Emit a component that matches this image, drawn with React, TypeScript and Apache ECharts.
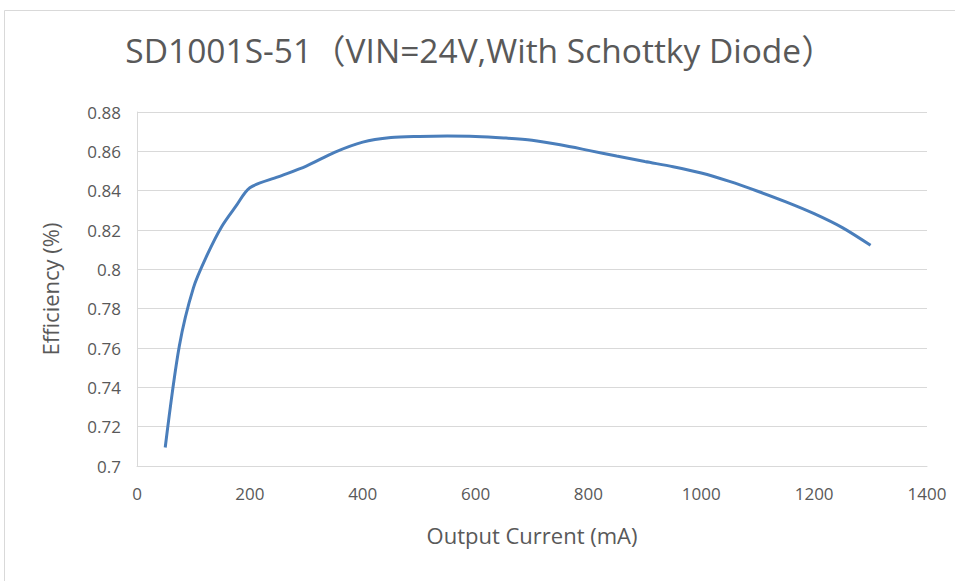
import React, { useEffect, useRef } from "react";
import * as echarts from "echarts";

const titleText = "SD1001S-51（VIN=24V,With Schottky Diode）";
const xName = "Output Current (mA)";
const yName = "Efficiency (%)";
const currents = [50, 75, 100, 125, 150, 175, 200, 250, 300, 350, 400, 450, 500, 550, 600, 650, 700, 750, 800, 850, 900, 950, 1000, 1050, 1100, 1150, 1200, 1250, 1300];
const efficiency = [0.7094, 0.761, 0.7906, 0.8077, 0.8217, 0.832, 0.8415, 0.847, 0.8525, 0.8595, 0.8647, 0.867, 0.8676, 0.8678, 0.8676, 0.8668, 0.8656, 0.8633, 0.8605, 0.8576, 0.8548, 0.8522, 0.849, 0.8447, 0.8397, 0.8343, 0.8283, 0.8212, 0.8122];

const FONT = "'Open Sans', 'Noto Sans CJK SC', sans-serif";

export default function App() {
  const ref = useRef<HTMLDivElement>(null);
  useEffect(() => {
    if (!ref.current) return;
    const chart = echarts.init(ref.current, null, { renderer: "svg" });
    chart.setOption({
      animation: false,
      backgroundColor: "#ffffff",
      title: {
        text: titleText,
        left: 475,
        top: 28,
        textAlign: "center",
        textStyle: { color: "#595959", fontSize: 33.5, fontWeight: "normal", fontFamily: FONT },
      },
      graphic: [
        {
          type: "rect",
          shape: { x: 4.5, y: 10.5, width: 980, height: 620 },
          style: { fill: "none", stroke: "#d9d9d9", lineWidth: 1 },
          silent: true,
        },
      ],
      grid: { left: 137, top: 112, right: 28, bottom: 115 },
      xAxis: {
        type: "value",
        min: 0,
        max: 1400,
        interval: 200,
        name: xName,
        nameLocation: "middle",
        nameGap: 58,
        nameTextStyle: { color: "#595959", fontSize: 22, fontFamily: FONT },
        axisLine: { show: true, lineStyle: { color: "#d9d9d9", width: 1 } },
        axisTick: { show: false },
        splitLine: { show: false },
        axisLabel: {
          color: "#595959",
          fontSize: 17,
          fontFamily: FONT,
          margin: 19,
          formatter: (v: number) => String(v),
        },
      },
      yAxis: {
        type: "value",
        min: 0.7,
        max: 0.88,
        interval: 0.02,
        name: yName,
        nameLocation: "middle",
        nameGap: 76,
        nameRotate: 90,
        nameTextStyle: { color: "#595959", fontSize: 22, fontFamily: FONT },
        axisLine: { show: true, lineStyle: { color: "#d9d9d9", width: 1 } },
        axisTick: { show: false },
        splitLine: { show: true, lineStyle: { color: "#d9d9d9", width: 1 } },
        axisLabel: {
          color: "#595959",
          fontSize: 17,
          fontFamily: FONT,
          margin: 16,
          formatter: (v: number) => String(+v.toFixed(2)),
        },
      },
      series: [
        {
          type: "line",
          data: currents.map((c, i) => [c, efficiency[i]]),
          smooth: 0.3,
          showSymbol: false,
          lineStyle: { color: "#4a7ebb", width: 3 },
        },
      ],
    });
    return () => chart.dispose();
  }, []);
  return (
    <div
      ref={ref}
      style={{ position: "fixed", left: 0, top: 0, width: 955, height: 581 }}
    />
  );
}
